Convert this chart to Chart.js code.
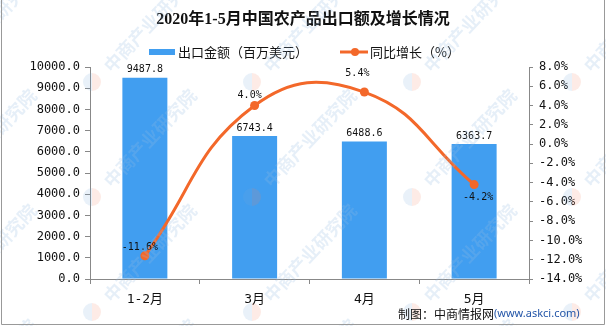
<!DOCTYPE html>
<html>
<head>
<meta charset="utf-8">
<script src="https://cdn.jsdelivr.net/npm/chart.js@4.4.1/dist/chart.umd.min.js"></script>
<style>
  html, body { margin: 0; padding: 0; background: #fff; }
  #wrap { width: 606px; height: 326px; position: relative; }
</style>
</head>
<body>
<div id="wrap"><canvas id="chart"></canvas></div>
<script>
// 2020年1-5月 农产品出口
const months = ['1-2月', '3月', '4月', '5月'];
const exportValue = [9487.8, 6743.4, 6488.6, 6363.7];   // 百万美元
const growthRate = [-11.6, 4.0, 5.4, -4.2];             // %
const leftTicks = [0, 10000, 1000];
const rightTicks = [-14, 8, 2];

const monoFont = '"DejaVu Sans Mono", "Noto Sans CJK SC", monospace';
const cjkFont = '"Noto Sans CJK SC", sans-serif';
const barBlue = '#419ef0';
const lineOrange = '#f3682a';

// where the % labels sit relative to each point
const rateLabelShift = [[-5, -8], [-5, -10], [-7, -19], [4, 13]];

const decorations = {
  id: 'decorations',
  afterDraw(chart) {
    const ctx = chart.ctx;
    ctx.save();

    // title
    ctx.fillStyle = '#111';
    ctx.font = 'bold 16px "Liberation Serif", "Noto Sans CJK SC", serif';
    ctx.textAlign = 'center';
    ctx.textBaseline = 'middle';
    ctx.fillText('2020年1-5月中国农产品出口额及增长情况', 303, 20);

    // legend
    ctx.font = '13px ' + cjkFont;
    ctx.textAlign = 'left';
    ctx.fillStyle = barBlue;
    ctx.fillRect(149, 49, 26, 6);
    ctx.fillStyle = '#111';
    ctx.fillText('出口金额（百万美元）', 178, 52);
    ctx.strokeStyle = lineOrange;
    ctx.lineWidth = 3;
    ctx.beginPath();
    ctx.moveTo(340, 52);
    ctx.lineTo(368, 52);
    ctx.stroke();
    ctx.fillStyle = lineOrange;
    ctx.beginPath();
    ctx.arc(355, 52, 4, 0, Math.PI * 2);
    ctx.fill();
    ctx.fillStyle = '#111';
    ctx.fillText('同比增长（%）', 370, 52);

    // value labels on bars
    ctx.font = '10px ' + monoFont;
    ctx.textAlign = 'center';
    chart.getDatasetMeta(0).data.forEach((bar, i) => {
      ctx.fillText(exportValue[i].toFixed(1), bar.x, bar.y - 8);
    });
    // value labels on line points
    chart.getDatasetMeta(1).data.forEach((pt, i) => {
      const s = rateLabelShift[i];
      ctx.fillText(growthRate[i].toFixed(1) + '%', pt.x + s[0], pt.y + s[1]);
    });

    // watermark
    ctx.font = 'bold 18px ' + cjkFont;
    for (let row = -1; row < 4; row++) {
      for (let col = -1; col < 5; col++) {
        const cx = -10 + col * 160;
        const cy = 23 + row * 115;
        ctx.save();
        ctx.translate(cx, cy);
        ctx.rotate(-47 * Math.PI / 180);
        ctx.fillStyle = 'rgba(150, 190, 225, 0.24)';
        ctx.fillText('中商产业研究院', 0, 0);
        ctx.restore();
        const lx = cx - 58, ly = cy - 56;
        ctx.fillStyle = 'rgba(120, 170, 220, 0.16)';
        ctx.beginPath();
        ctx.arc(lx, ly, 9, Math.PI * 0.5, Math.PI * 1.5);
        ctx.fill();
        ctx.fillStyle = 'rgba(240, 130, 100, 0.16)';
        ctx.beginPath();
        ctx.arc(lx, ly, 9, -Math.PI * 0.5, Math.PI * 0.5);
        ctx.fill();
      }
    }

    // credit line
    ctx.textAlign = 'left';
    ctx.fillStyle = '#111';
    ctx.font = '12px ' + cjkFont;
    ctx.fillText('制图：中商情报网', 398, 314);
    ctx.fillStyle = '#2456a8';
    ctx.font = '11px "Noto Sans", sans-serif';
    ctx.fillText('(www.askci.com)', 494, 314);

    // frame
    ctx.strokeStyle = '#999';
    ctx.lineWidth = 1;
    ctx.beginPath();
    ctx.moveTo(1.5, 0);
    ctx.lineTo(1.5, 324.5);
    ctx.lineTo(604.5, 324.5);
    ctx.lineTo(604.5, 0);
    ctx.stroke();
    ctx.restore();
  }
};

new Chart(document.getElementById('chart'), {
  data: {
    labels: months,
    datasets: [{
      type: 'bar',
      label: '出口金额（百万美元）',
      data: exportValue,
      backgroundColor: barBlue,
      categoryPercentage: 1,
      barPercentage: 0.41,
      yAxisID: 'y',
      order: 1
    }, {
      type: 'line',
      label: '同比增长（%）',
      data: growthRate,
      borderColor: lineOrange,
      backgroundColor: lineOrange,
      borderWidth: 3,
      pointRadius: 4.5,
      pointBackgroundColor: lineOrange,
      pointBorderWidth: 0,
      tension: 0.45,
      yAxisID: 'y1',
      order: 0
    }]
  },
  options: {
    responsive: true,
    maintainAspectRatio: false,
    animation: false,
    layout: { padding: { top: 67, left: 0, right: 0, bottom: 0 } },
    plugins: {
      legend: { display: false },
      title: { display: false },
      tooltip: { enabled: false }
    },
    scales: {
      x: {
        grid: { drawOnChartArea: false, drawTicks: true, tickLength: 5, color: '#888', offset: true },
        border: { display: true, color: '#888' },
        ticks: { color: '#111', font: { family: monoFont, size: 13 }, padding: 8 },
        afterFit(scale) { scale.height = 47; }
      },
      y: {
        position: 'left',
        min: leftTicks[0],
        max: leftTicks[1],
        grid: { drawOnChartArea: false, drawTicks: true, tickLength: 5, color: '#888' },
        border: { display: true, color: '#888' },
        ticks: {
          stepSize: leftTicks[2],
          color: '#111',
          font: { family: monoFont, size: 12 },
          padding: 5,
          callback: v => v.toFixed(1)
        },
        afterFit(scale) { scale.width = 90; }
      },
      y1: {
        position: 'right',
        min: rightTicks[0],
        max: rightTicks[1],
        grid: { drawOnChartArea: false, drawTicks: true, tickLength: 4, color: '#888' },
        border: { display: true, color: '#888' },
        ticks: {
          stepSize: rightTicks[2],
          color: '#111',
          font: { family: monoFont, size: 12 },
          padding: 6,
          callback: v => v.toFixed(1) + '%'
        },
        afterFit(scale) { scale.width = 77; }
      }
    }
  },
  plugins: [decorations]
});
</script>
</body>
</html>
